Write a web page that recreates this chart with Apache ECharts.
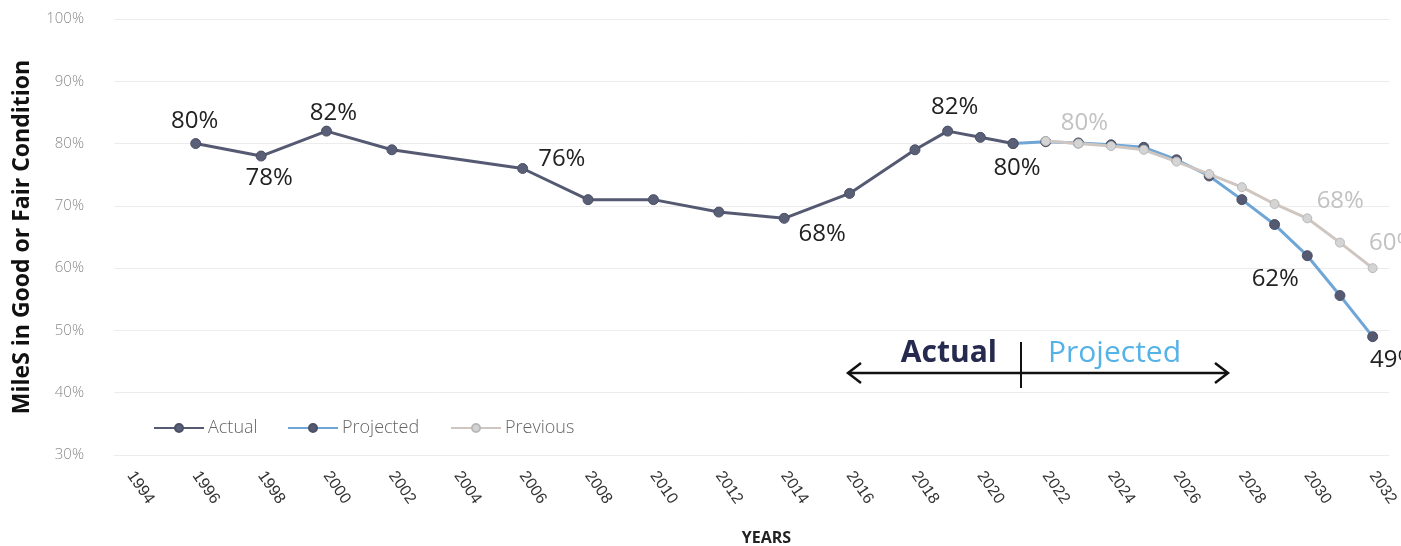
<!DOCTYPE html>
<html>
<head>
<meta charset="utf-8">
<script src="https://cdn.jsdelivr.net/npm/echarts@6/dist/echarts.min.js"></script>
<style>
  html, body { margin: 0; padding: 0; background: #ffffff; }
  #chart { width: 1401px; height: 546px; }
</style>
</head>
<body>
<div id="chart"></div>
<script>
// Year categories shown on the x axis (labels on even years)
const years = [];
for (let y = 1994; y <= 2032; y++) years.push(String(y));

// Measured condition, percent of miles in good or fair condition
const actualYears  = [1996, 1998, 2000, 2002, 2006, 2008, 2010, 2012, 2014, 2016, 2018, 2019, 2020, 2021];
const actualValues = [80,   78,   82,   79,   76,   71,   71,   69,   68,   72,   79,   82,   81,   80];

// Current projection
const projectedYears  = [2021, 2022, 2023, 2024, 2025, 2026, 2027, 2028, 2029, 2030, 2031, 2032];
const projectedValues = [80,   80.3, 80.1, 79.8, 79.4, 77.4, 74.8, 71,   67,   62,   55.6, 49];

// Earlier projection
const previousYears  = [2022, 2023, 2024, 2025, 2026, 2027, 2028, 2029, 2030, 2031, 2032];
const previousValues = [80.4, 80,   79.6, 79.0, 77.1, 75.1, 73,   70.3, 68,   64.1, 60];

const yTicks = { min: 30, max: 100, step: 10 };

// Which points carry a value label, and where it sits
const actualLabelSpots = {
  1996: { position: 'top', distance: 5, offset: [-1, 0] },
  1998: { position: 'bottom', distance: 5, offset: [8, 0] },
  2000: { position: 'top', distance: 0, offset: [7, 0] },
  2006: { position: 'right', distance: 10, offset: [0, -9] },
  2014: { position: 'bottom', distance: 0, offset: [38, -2] },
  2019: { position: 'top', distance: 6, offset: [7, 0] },
  2021: { position: 'bottom', distance: 7, offset: [4, 0] }
};
const projectedLabelSpots = {
  2030: { position: 'bottom', distance: 6, offset: [-32, 0] },
  2032: { position: 'bottom', distance: 6, offset: [21, 0] }
};
const previousLabelSpots = {
  2023: { position: 'top', distance: 3, offset: [6, 0] },
  2030: { position: 'top', distance: 0, offset: [33, 0] },
  2032: { position: 'top', distance: 8, offset: [20, 0] }
};

const LABEL_FONT = '"Open Sans", "Noto Sans", sans-serif';

function buildPoints(xs, vs, spots, labelColor) {
  return xs.map((yr, i) => {
    const item = { value: [String(yr), vs[i]] };
    const s = spots[yr];
    if (s) {
      item.label = {
        show: true,
        position: s.position,
        distance: s.distance,
        offset: s.offset,
        formatter: (p) => Math.round(p.value[1]) + '%',
        fontFamily: LABEL_FONT,
        fontSize: 24,
        color: labelColor
      };
    }
    return item;
  });
}

function legendAt(left, name) {
  return {
    left: left,
    top: 419,
    padding: 0,
    itemWidth: 50,
    itemHeight: 10,
    textStyle: { fontFamily: LABEL_FONT, fontSize: 18, color: '#666', fontWeight: 300, padding: [0, 0, 0, -1] },
    data: [name]
  };
}

const chart = echarts.init(document.getElementById('chart'), null, { renderer: 'canvas' });

const option = {
  backgroundColor: '#ffffff',
  animation: false,
  grid: { left: 114, right: 12, top: 19, bottom: 91, containLabel: false, outerBoundsMode: 'none' },
  legend: [legendAt(153, 'Actual'), legendAt(287, 'Projected'), legendAt(450, 'Previous')],
  xAxis: {
    type: 'category',
    data: years,
    boundaryGap: true,
    name: 'YEARS',
    nameLocation: 'middle',
    nameGap: 75,
    nameTextStyle: { fontFamily: '"Open Sans", sans-serif', fontWeight: 'bold', fontSize: 16, color: '#222', padding: [0, 0, 0, 30] },
    axisLine: { show: true, lineStyle: { color: '#ececec', width: 1 } },
    axisTick: { show: false },
    axisLabel: {
      interval: 1,
      rotate: -55,
      margin: 18,
      fontFamily: '"Liberation Sans", "DejaVu Sans", sans-serif',
      fontSize: 16,
      color: '#333'
    },
    splitLine: { show: false }
  },
  yAxis: {
    type: 'value',
    min: yTicks.min,
    max: yTicks.max,
    interval: yTicks.step,
    name: 'MileS in Good or Fair Condition',
    nameLocation: 'middle',
    nameGap: 80,
    nameTextStyle: { fontFamily: '"Open Sans", "Noto Sans", sans-serif', fontWeight: 'bold', fontSize: 23, color: '#111' },
    axisLine: { show: false },
    axisTick: { show: false },
    axisLabel: {
      formatter: '{value}%',
      margin: 30,
      fontFamily: LABEL_FONT,
      fontSize: 15,
      fontWeight: 300,
      color: '#8a8a8a'
    },
    splitLine: { show: true, lineStyle: { color: '#ececec', width: 1 } }
  },
  series: [
    {
      name: 'Actual',
      type: 'line',
      data: buildPoints(actualYears, actualValues, actualLabelSpots, '#222'),
      symbol: 'circle',
      symbolSize: 10,
      lineStyle: { color: '#555a72', width: 3 },
      itemStyle: { color: '#5a5f78', borderColor: '#4b5066', borderWidth: 1 },
      z: 3
    },
    {
      name: 'Projected',
      type: 'line',
      data: buildPoints(projectedYears, projectedValues, projectedLabelSpots, '#222'),
      symbol: 'circle',
      symbolSize: 10,
      lineStyle: { color: '#6fa6d6', width: 3 },
      itemStyle: { color: '#555a72', borderColor: '#4b5066', borderWidth: 1 },
      z: 2
    },
    {
      name: 'Previous',
      type: 'line',
      data: buildPoints(previousYears, previousValues, previousLabelSpots, '#c2c2c2'),
      symbol: 'circle',
      symbolSize: 9,
      lineStyle: { color: '#cfc6c2', width: 3 },
      itemStyle: { color: '#d4d4d4', borderColor: '#b9b9b9', borderWidth: 1 },
      z: 4
    }
  ]
};

chart.setOption(option);

// "Actual | Projected" annotation with a double-headed arrow
const arrowY = 373;
const arrowL = 848, arrowR = 1228, divX = 1021;
chart.setOption({
  graphic: [
    { type: 'line', shape: { x1: arrowL, y1: arrowY, x2: arrowR, y2: arrowY }, style: { stroke: '#111', lineWidth: 2.5 }, z: 10 },
    { type: 'polyline', shape: { points: [[arrowL + 13, arrowY - 10], [arrowL, arrowY], [arrowL + 13, arrowY + 10]] }, style: { stroke: '#111', lineWidth: 2.5, fill: null }, z: 10 },
    { type: 'polyline', shape: { points: [[arrowR - 13, arrowY - 10], [arrowR, arrowY], [arrowR - 13, arrowY + 10]] }, style: { stroke: '#111', lineWidth: 2.5, fill: null }, z: 10 },
    { type: 'line', shape: { x1: divX, y1: 342, x2: divX, y2: 388 }, style: { stroke: '#111', lineWidth: 2 }, z: 10 },
    { type: 'text', x: divX - 24, y: 353, style: { text: 'Actual', fill: '#262a4e', font: 'bold 30px "Open Sans", "Noto Sans", sans-serif', textAlign: 'right', textVerticalAlign: 'middle' }, z: 10 },
    { type: 'text', x: divX + 27, y: 353, style: { text: 'Projected', fill: '#55b2e6', font: '30px "Open Sans", "Noto Sans", sans-serif', textAlign: 'left', textVerticalAlign: 'middle' }, z: 10 }
  ]
});
</script>
</body>
</html>
